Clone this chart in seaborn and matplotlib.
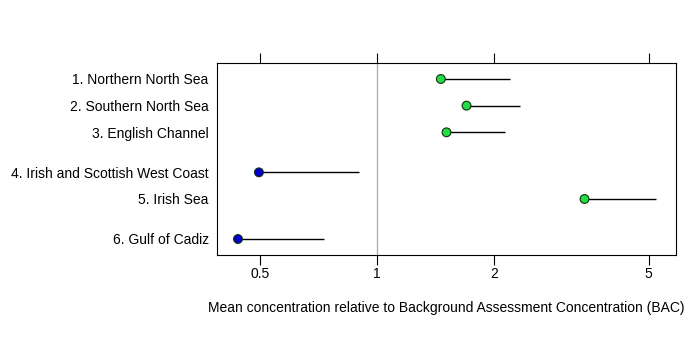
import matplotlib
matplotlib.use("Agg")
import matplotlib.pyplot as plt
import seaborn as sns
import pandas as pd
from matplotlib.ticker import FixedLocator, FixedFormatter, NullLocator

regions = ["1. Northern North Sea", "2. Southern North Sea", "3. English Channel",
           "4. Irish and Scottish West Coast", "5. Irish Sea", "6. Gulf of Cadiz"]
row_pos = [0, 1, 2, 3.5, 4.5, 6]
mean_ratio = [1.46, 1.70, 1.51, 0.497, 3.42, 0.439]
upper_ratio = [2.20, 2.34, 2.13, 0.900, 5.21, 0.732]
status = ["above", "above", "above", "below", "above", "below"]
xticks = [0.5, 1, 2, 5]
xtick_labels = ["0.5", "1", "2", "5"]

df = pd.DataFrame({"region": regions, "y": row_pos, "mean": mean_ratio,
                   "upper": upper_ratio, "status": status})

sns.set_style("white")
plt.rcParams["font.family"] = ["Liberation Sans", "DejaVu Sans"]
plt.rcParams["text.color"] = "black"
plt.rcParams["axes.labelcolor"] = "black"

fig = plt.figure(figsize=(7, 3.5), dpi=100)
ax = fig.add_axes([217/700, 1-255/350, (676-217)/700, (255-63)/350])
ax.set_xscale("log")
ax.axvline(1, color="#b0b0b0", lw=1, zorder=0)
ax.hlines(df["y"], df["mean"], df["upper"], color="black", lw=1, zorder=2)
sns.scatterplot(data=df, x="mean", y="y", hue="status",
                palette={"above": "#22dd44", "below": "#0000cc"},
                edgecolor="#103010", linewidth=0.8, s=40, legend=False,
                ax=ax, zorder=3)
ax.set_xlim(0.3877, 5.88)
ax.set_ylim(6.6, -0.6)
ax.xaxis.set_major_locator(FixedLocator(xticks))
ax.xaxis.set_major_formatter(FixedFormatter(xtick_labels))
ax.xaxis.set_minor_locator(NullLocator())
ax.set_yticks(row_pos)
ax.set_yticklabels(regions)
ax.tick_params(axis="x", which="major", direction="out", length=7, width=0.8,
               top=True, bottom=True, labeltop=False, labelsize=10, pad=2,
               colors="black")
ax.tick_params(axis="y", length=0, labelsize=10, pad=6, colors="black")
for sp in ax.spines.values():
    sp.set_visible(True)
    sp.set_color("black")
    sp.set_linewidth(0.8)
ax.set_xlabel("Mean concentration relative to Background Assessment Concentration (BAC)",
              fontsize=10, labelpad=14, color="black")
ax.set_ylabel("")
fig.savefig("out.png", dpi=100)
